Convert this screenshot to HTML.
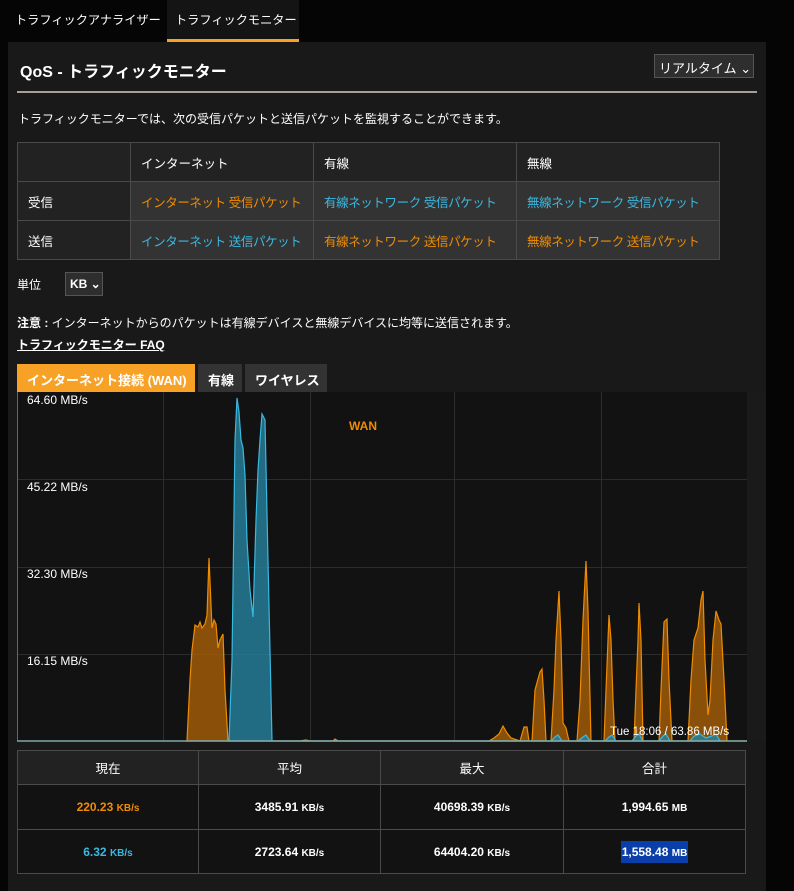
<!DOCTYPE html>
<html><head><meta charset="utf-8"><style>
*{margin:0;padding:0;box-sizing:border-box}
body{width:794px;height:891px;background:#050505;position:relative;overflow:hidden;font-family:"Liberation Sans","Noto Sans CJK JP",sans-serif;color:#fff;font-size:13px}
.a{position:absolute;white-space:nowrap}
table{border-collapse:collapse;position:absolute;table-layout:fixed}
td{border:1px solid #4a4a4a;font-size:12.5px;white-space:nowrap;overflow:hidden}
</style></head><body>
<div class="a" style="left:15px;top:10px;font-size:12.2px">トラフィックアナライザー</div>
<div class="a" style="left:167px;top:0;width:132px;height:42px;background:#141414;border-bottom:3px solid #f7a227"></div>
<div class="a" style="left:175px;top:10px;font-size:12.2px">トラフィックモニター</div>
<div class="a" style="left:8px;top:42px;width:758px;height:849px;background:#191919"></div>
<div class="a" style="left:20px;top:58px;font-size:16px;font-weight:bold">QoS - トラフィックモニター</div>
<div class="a" style="left:654px;top:54px;width:100px;height:24px;background:#2e2e2e;border:1px solid #555;font-size:13px;padding:3px 0 0 4px">リアルタイム ⌄</div>
<div class="a" style="left:17px;top:91px;width:740px;height:2px;background:#a89e9a"></div>
<div class="a" style="left:18px;top:110px;font-size:12px">トラフィックモニターでは、次の受信パケットと送信パケットを監視することができます。</div>
<table style="left:17px;top:142px;width:703px">
<col style="width:113px"><col style="width:183px"><col style="width:203px"><col>
<tr style="height:39px;background:#222"><td></td><td style="padding-left:10px">インターネット</td><td style="padding-left:10px">有線</td><td style="padding-left:10px">無線</td></tr>
<tr style="height:39px"><td style="background:#222;padding-left:10px">受信</td><td style="background:#333;padding-left:10px;color:#f08c00;letter-spacing:-0.4px">インターネット 受信パケット</td><td style="background:#333;padding-left:10px;color:#3bb8e0;letter-spacing:-0.4px">有線ネットワーク 受信パケット</td><td style="background:#333;padding-left:10px;color:#3bb8e0;letter-spacing:-0.4px">無線ネットワーク 受信パケット</td></tr>
<tr style="height:39px"><td style="background:#222;padding-left:10px">送信</td><td style="background:#333;padding-left:10px;color:#3bb8e0;letter-spacing:-0.4px">インターネット 送信パケット</td><td style="background:#333;padding-left:10px;color:#f08c00;letter-spacing:-0.4px">有線ネットワーク 送信パケット</td><td style="background:#333;padding-left:10px;color:#f08c00;letter-spacing:-0.4px">無線ネットワーク 送信パケット</td></tr>
</table>
<div class="a" style="left:17px;top:276px;font-size:12px">単位</div>
<div class="a" style="left:65px;top:272px;width:38px;height:24px;background:#2e2e2e;border:1px solid #555;font-size:12px;font-weight:bold;padding:4px 0 0 4px">KB ⌄</div>
<div class="a" style="left:17px;top:314px;font-size:12px"><b>注意 :</b> インターネットからのパケットは有線デバイスと無線デバイスに均等に送信されます。</div>
<div class="a" style="left:17px;top:336px;font-size:12px;font-weight:bold;text-decoration:underline">トラフィックモニター FAQ</div>
<div class="a" style="left:17px;top:364px;width:178px;height:28px;background:#f7a227;font-weight:bold;font-size:13px;padding:6px 0 0 10px">インターネット接続 (WAN)</div>
<div class="a" style="left:198px;top:364px;width:44px;height:28px;background:#333;font-weight:bold;padding:6px 0 0 10px">有線</div>
<div class="a" style="left:245px;top:364px;width:82px;height:28px;background:#333;font-weight:bold;padding:6px 0 0 10px">ワイヤレス</div>
<svg class="a" style="left:0;top:0" width="794" height="891">
<rect x="17" y="392" width="730" height="349" fill="#121212"/>
<rect x="747" y="392" width="19" height="349" fill="#1a1a1a"/>
<g stroke="#2c2c2c" stroke-width="1">
<line x1="163.5" y1="392" x2="163.5" y2="741"/><line x1="310.5" y1="392" x2="310.5" y2="741"/>
<line x1="454.5" y1="392" x2="454.5" y2="741"/><line x1="601.5" y1="392" x2="601.5" y2="741"/>
<line x1="17" y1="479.5" x2="747" y2="479.5"/><line x1="17" y1="567.5" x2="747" y2="567.5"/><line x1="17" y1="654.5" x2="747" y2="654.5"/>
</g>
<line x1="17.5" y1="392" x2="17.5" y2="741" stroke="#666"/>
<polygon fill="rgba(160,92,8,0.85)" stroke="#f08c00" stroke-width="1.2" points="187,741 190,680 192,650 195,625 198,627 200,622 202,628 205,624 207,615 209,558 212,628 214,620 216,624 218,648 220,640 223,634 225,690 228,741 300,741 306,740 310,741 333,741 335,739 338,741 430,741 489,741 494,738 499,734 503,726 507,733 511,738 520,741 524,727 527,727 529,741 532,741 535,690 538,679 540,672 542,669 544,700 546,741 551,741 554,690 556,640 559,591 561,640 563,723 566,728 569,741 577,741 580,700 583,620 586,561 588,610 591,741 604,741 606,690 608,640 609,615 611,640 613,700 615,741 634,741 636,690 638,640 639,603 641,640 643,741 659,741 661,690 664,622 667,619 669,680 672,741 688,741 691,680 694,640 698,628 701,600 703,591 705,660 708,715 710,700 713,640 716,611 719,620 721,624 724,680 727,741 747,741"/>
<polygon fill="rgba(38,130,160,0.8)" stroke="#3bb8e0" stroke-width="1.2" points="229,741 232,660 235,440 237,398 239,412 241,440 243,448 245,475 247,540 250,590 253,617 256,520 258,470 260,440 262,414 265,420 268,560 272,741 551,741 555,737 558,735 562,741 578,741 583,737 586,735 590,741 605,741 609,737 612,735 616,741 632,741 636,736 639,734 643,741 659,741 663,736 666,734 670,741 690,741 694,736 700,734 706,738 712,736 716,734 720,741"/>
<line x1="17" y1="741" x2="747" y2="741" stroke="#7fa8a8" stroke-width="1.5"/>
<g font-family="Liberation Sans, sans-serif" font-size="12" fill="#fff">
<text x="27" y="404">64.60 MB/s</text><text x="27" y="491">45.22 MB/s</text><text x="27" y="578">32.30 MB/s</text><text x="27" y="665">16.15 MB/s</text>
<text x="610" y="735" font-size="11.5">Tue 18:06 / 63.86 MB/s</text>
<text x="349" y="430" fill="#f08c00" font-weight="bold" font-size="12">WAN</text>
</g>
</svg>
<table style="left:17px;top:750px;width:729px;text-align:center">
<col style="width:181px"><col style="width:182px"><col style="width:183px"><col>
<tr style="height:34px;background:#222"><td>現在</td><td>平均</td><td>最大</td><td>合計</td></tr>
<tr style="height:45px;background:#121212;font-weight:bold"><td style="color:#f08c00;font-size:12px">220.23 <small>KB/s</small></td><td style="font-size:12px">3485.91 <small>KB/s</small></td><td style="font-size:12px">40698.39 <small>KB/s</small></td><td style="font-size:12px">1,994.65 <small>MB</small></td></tr>
<tr style="height:44px;background:#121212;font-weight:bold"><td style="color:#3bb8e0;font-size:12px">6.32 <small>KB/s</small></td><td style="font-size:12px">2723.64 <small>KB/s</small></td><td style="font-size:12px">64404.20 <small>KB/s</small></td><td style="font-size:12px"><span style="background:#0a3ea8;padding:4px 1px">1,558.48 <small>MB</small></span></td></tr>
</table>
</body></html>
